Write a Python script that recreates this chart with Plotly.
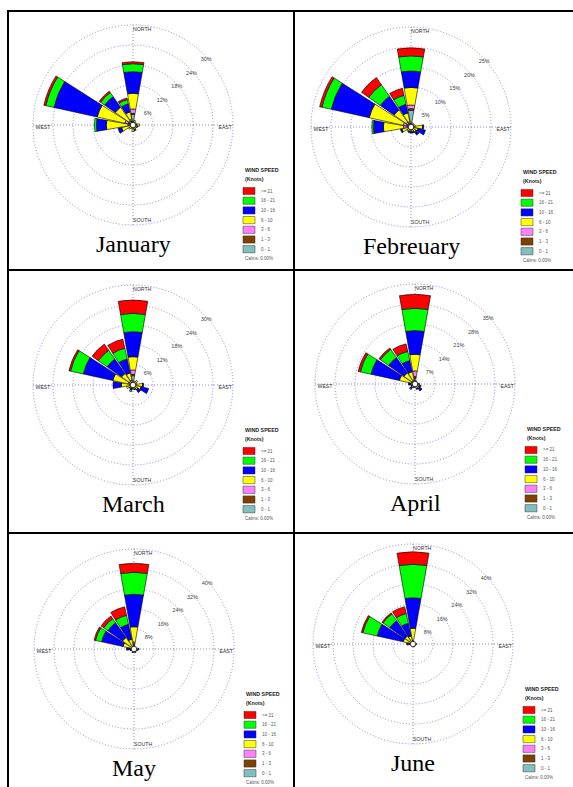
import plotly.graph_objects as go

W, H = 573, 787

# ---------------- data ----------------
directions = [0, 22.5, 45, 67.5, 90, 112.5, 135, 157.5,
              180, 202.5, 225, 247.5, 270, 292.5, 315, 337.5]  # N, NNE, ... NNW
speed_classes = ["0 - 1", "1 - 3", "3 - 6", "6 - 10", "10 - 16", "16 - 21", ">= 21"]
class_colors = ["#80C0C0", "#804000", "#FF80FF", "#FFFF00", "#0000FF", "#00FF00", "#FF0000"]
months = ["January", "Febreuary", "March", "April", "May", "June"]
compass_labels = ["NORTH", "EAST", "SOUTH", "WEST"]

# ring tick values per month (%)
jan_rings = [6, 12, 18, 24, 30]
feb_rings = [5, 10, 15, 20, 25]
mar_rings = [6, 12, 18, 24, 30]
apr_rings = [7, 14, 21, 28, 35]
may_rings = [8, 16, 24, 32, 40]
jun_rings = [8, 16, 24, 32, 40]

# frequency (%) per speed class (rows: 0-1 ... >=21), per direction N..NNW
jan = [
    [3.2, .5, .4, .4, .5, .4, .4, .4, .4, .3, .3, .3, .4, 1.0, .7, 1.0],
    [.3, .2, .1, .1, .2, .1, .1, .1, .1, .1, .1, .2, .2, .5, .3, .3],
    [1.3, .3, .3, .3, .4, .3, .3, .3, .4, .3, .4, .5, .9, 1.0, .6, .5],
    [4.7, .5, .2, .4, .9, .5, .4, .6, 1.1, .5, .8, 2.5, 6.5, 8.5, 4.9, 2.2],
    [6.5, 0, 0, 0, 0, .2, 0, .4, 0, 0, 0, 1.1, 3.0, 13.3, 3.9, 2.5],
    [2.4, 0, 0, 0, 0, 0, 0, 0, 0, 0, 0, 0, .6, 2.5, 1.5, 1.3],
    [.6, 0, 0, 0, 0, 0, 0, 0, 0, 0, 0, 0, 0, .6, .5, .5],
]
feb = [
    [4.2, .5, .4, .4, .4, .3, .3, .3, .3, .3, .3, .3, .5, .8, .6, .8],
    [.4, .1, .1, .1, .2, .1, .1, .1, .1, .1, .1, .1, .3, .4, .3, .2],
    [.9, .2, .2, .2, .4, .3, .3, .3, .3, .3, .3, .4, 1.1, .8, .6, .4],
    [4.4, .3, .2, .4, 1.9, 1.1, .8, .6, .5, .5, .6, 1.5, 5.0, 8.7, 3.7, 2.2],
    [4.1, 0, 0, 0, .3, 1.9, 1.0, .3, .3, .3, 0, .4, 2.5, 9.7, 4.2, 2.2],
    [3.8, 0, 0, 0, 0, 0, 0, 0, 0, 0, 0, 0, .4, 2.4, 3.5, 2.3],
    [2.0, 0, 0, 0, 0, 0, 0, 0, 0, 0, 0, 0, 0, .6, 2.2, 1.8],
]
mar = [
    [2.8, .3, .3, .3, .4, .3, .3, .3, .3, .3, .3, .3, .3, .6, .6, .7],
    [.4, .1, .1, .1, .1, .1, .1, .1, .1, .1, .1, .1, .2, .3, .3, .3],
    [1.3, .3, .4, .3, .4, .4, .3, .3, .3, .2, .3, .4, .5, .6, .5, .5],
    [4.0, .5, 1.0, .5, 2.0, 1.7, 1.0, .6, .6, .4, .5, 1.2, 2.5, 4.7, 2.8, 2.2],
    [7.5, 0, 0, 0, .3, 2.3, 1.1, .2, 0, .6, .2, 0, 2.5, 9.1, 5.3, 4.3],
    [5.5, 0, 0, 0, 0, 0, 0, 0, 0, .5, 0, 0, 0, 3.9, 3.2, 3.3],
    [4.0, 0, 0, 0, 0, 0, 0, 0, 0, 0, 0, 0, 0, .5, 2.3, 2.8],
]
apr = [
    [2.0, .3, .3, .3, .3, .3, .3, .3, .3, .3, .3, .3, .3, .5, .6, .6],
    [.6, .1, .1, .1, .1, .1, .1, .1, .1, .1, .1, .1, .1, .3, .3, .3],
    [2.0, .3, .2, .2, .3, .3, .3, .3, .3, .3, .3, .3, .3, .6, .5, .6],
    [5.8, .5, .3, .3, .7, .9, 1.2, 1.0, .4, .4, .8, .6, .9, 4.2, 3.3, 2.9],
    [8.3, 0, 0, 0, .1, .6, 1.1, .3, 0, .2, .6, .2, .7, 10.2, 6.6, 4.0],
    [7.8, 0, 0, 0, 0, 0, 0, 0, 0, 0, .3, 0, 0, 3.8, 3.5, 3.3],
    [4.9, 0, 0, 0, 0, 0, 0, 0, 0, 0, 0, 0, 0, .8, .6, 2.7],
]
may = [
    [1.6, .3, .2, .3, .3, .3, .3, .3, .2, .3, .2, .3, .3, .4, .5, .5],
    [.4, .1, .1, .1, .1, .1, .1, .1, .1, .1, .1, .1, .1, .3, .3, .3],
    [.8, .2, .2, .2, .4, .3, .2, .3, .2, .3, .2, .3, .3, .4, .4, .4],
    [6.1, .4, .3, .4, 1.0, .6, .5, .5, .4, .5, .4, .7, .8, 3.4, 4.4, 2.8],
    [13.0, 0, 0, 0, .2, .2, .1, .3, 0, .2, 0, .1, 1.5, 8.8, 7.2, 6.1],
    [8.8, 0, 0, 0, 0, 0, 0, 0, 0, .2, 0, 0, 0, 2.5, 2.0, 3.7],
    [3.6, 0, 0, 0, 0, 0, 0, 0, 0, 0, 0, 0, 0, .6, 1.3, 3.5],
]
jun = [
    [.6, .2, .2, .2, .3, .2, .2, .2, .2, .2, .2, .2, .2, .3, .3, .3],
    [.3, .1, .1, .1, .1, .1, .1, .1, .1, .1, .1, .1, .1, .2, .2, .2],
    [.5, .2, .2, .2, .3, .2, .2, .2, .2, .2, .2, .2, .2, .3, .3, .3],
    [4.9, .3, .3, .3, .9, .5, .4, .5, .3, .3, .3, .4, .8, 3.2, 3.1, 2.5],
    [12.2, 0, 0, 0, 0, .1, .1, .2, 0, 0, 0, .1, 1.2, 10.7, 7.5, 5.2],
    [13.4, 0, 0, 0, 0, 0, 0, 0, 0, 0, 0, 0, 0, 5.9, 3.3, 4.0],
    [5.0, 0, 0, 0, 0, 0, 0, 0, 0, 0, 0, 0, 0, .6, .5, 2.8],
]

month_data = [jan, feb, mar, apr, may, jun]
month_rings = [jan_rings, feb_rings, mar_rings, apr_rings, may_rings, jun_rings]

# ---------------- layout geometry (pixels) ----------------
centers = [(133, 125), (411, 127), (133, 385), (415, 384), (134, 649), (413, 644)]
RANGE_PAD = 1.015          # keep outer ring strictly inside the radial range
RAD = 100 * RANGE_PAD      # domain half-size so outer ring lands at 100 px
GRID = "#8a8ae0"
SANS = "Liberation Sans, Arial, sans-serif"
SERIF = "Liberation Serif, Times New Roman, serif"


def px(x):
    return x / W


def py(y):
    return 1 - y / H


fig = go.Figure()
layout_polars = {}
annotations = []
shapes = []

for i, (name, data, rings, (cx, cy)) in enumerate(zip(months, month_data, month_rings, centers)):
    key = "polar" if i == 0 else f"polar{i+1}"
    rmax = rings[-1]
    for cls, col, vals in zip(speed_classes, class_colors, data):
        fig.add_trace(go.Barpolar(
            r=vals, theta=directions, width=20, subplot=key, name=cls,
            marker=dict(color=col, line=dict(color="black", width=0.6)),
            hoverinfo="skip", showlegend=False))
    # ring labels
    fig.add_trace(go.Scatterpolar(
        r=rings, theta=[47] * len(rings), mode="text", subplot=key,
        text=[f"{v}%" for v in rings], textposition="bottom center",
        textfont=dict(family=SANS, size=5.5, color="#444"),
        cliponaxis=False, hoverinfo="skip", showlegend=False))
    # compass labels
    fig.add_trace(go.Scatterpolar(
        r=[rmax * 0.955, rmax * 0.99, rmax * 0.955, rmax * 0.975],
        theta=[0, 90, 180, 270], mode="text", subplot=key,
        text=compass_labels,
        textposition=["middle right", "bottom left", "middle right", "bottom right"],
        textfont=dict(family=SANS, size=5.2, color="#333"),
        cliponaxis=False, hoverinfo="skip", showlegend=False))
    # calm circle
    fig.add_trace(go.Scatterpolar(
        r=[0], theta=[0], mode="markers", subplot=key,
        marker=dict(size=5.5, color="white", line=dict(color="black", width=0.7)),
        cliponaxis=False, hoverinfo="skip", showlegend=False))

    layout_polars[key] = dict(
        domain=dict(x=[px(cx - RAD), px(cx + RAD)],
                    y=[py(cy + RAD), py(cy - RAD)]),
        bgcolor="rgba(0,0,0,0)",
        barmode="stack",
        radialaxis=dict(range=[0, rmax * RANGE_PAD], tickvals=rings, showticklabels=False,
                        ticks="", showline=False, gridcolor=GRID, griddash="1px,2px",
                        gridwidth=1, layer="below traces"),
        angularaxis=dict(direction="clockwise", rotation=90, tickvals=[0, 90, 180, 270],
                         showticklabels=False, ticks="", showline=False,
                         gridcolor=GRID, griddash="1px,2px", gridwidth=1,
                         layer="below traces"),
    )

    # month title
    annotations.append(dict(x=px(cx), y=py(cy + 119), xref="paper", yref="paper",
                            text=name, showarrow=False, xanchor="center", yanchor="middle",
                            font=dict(family=SERIF, size=24, color="black")))
    # legend
    lx = cx + 110
    annotations.append(dict(x=px(lx), y=py(cy + 45), xref="paper", yref="paper",
                            text="<b>WIND SPEED</b>", showarrow=False, xanchor="left",
                            yanchor="middle", font=dict(family=SANS, size=5.3, color="#222")))
    annotations.append(dict(x=px(lx), y=py(cy + 54), xref="paper", yref="paper",
                            text="<b>(Knots)</b>", showarrow=False, xanchor="left",
                            yanchor="middle", font=dict(family=SANS, size=5.3, color="#222")))
    for j, (cls, col) in enumerate(zip(speed_classes[::-1], class_colors[::-1])):
        yc = cy + 66 + j * 9.7
        shapes.append(dict(type="rect", xref="paper", yref="paper",
                           x0=px(lx), x1=px(lx + 12), y0=py(yc + 3.6), y1=py(yc - 3.6),
                           fillcolor=col, line=dict(color="#333", width=0.5)))
        annotations.append(dict(x=px(lx + 16), y=py(yc), xref="paper", yref="paper",
                                text=cls, showarrow=False, xanchor="left", yanchor="middle",
                                font=dict(family=SANS, size=4.5, color="#555")))
    annotations.append(dict(x=px(lx), y=py(cy + 133), xref="paper", yref="paper",
                            text="Calms: 0.00%", showarrow=False, xanchor="left",
                            yanchor="middle", font=dict(family=SANS, size=4.5, color="#555")))

# table frame
frame_lines = [
    (8, 10, 8, H + 5),        # left
    (7, 11, W + 5, 11),       # top
    (294, 10, 294, H + 5),    # middle vertical
    (7, 270, W + 5, 270),     # row divider 1
    (7, 533, W + 5, 533),     # row divider 2
]
for x0, y0, x1, y1 in frame_lines:
    shapes.append(dict(type="line", xref="paper", yref="paper",
                       x0=px(x0), y0=py(y0), x1=px(x1), y1=py(y1),
                       line=dict(color="black", width=2)))

fig.update_layout(width=W, height=H, margin=dict(l=0, r=0, t=0, b=0),
                  paper_bgcolor="white", plot_bgcolor="white", showlegend=False,
                  annotations=annotations, shapes=shapes, **layout_polars)

fig.write_html("out.html", config={"displayModeBar": False},
               post_script="document.body.style.margin='0';document.body.style.padding='0';")
